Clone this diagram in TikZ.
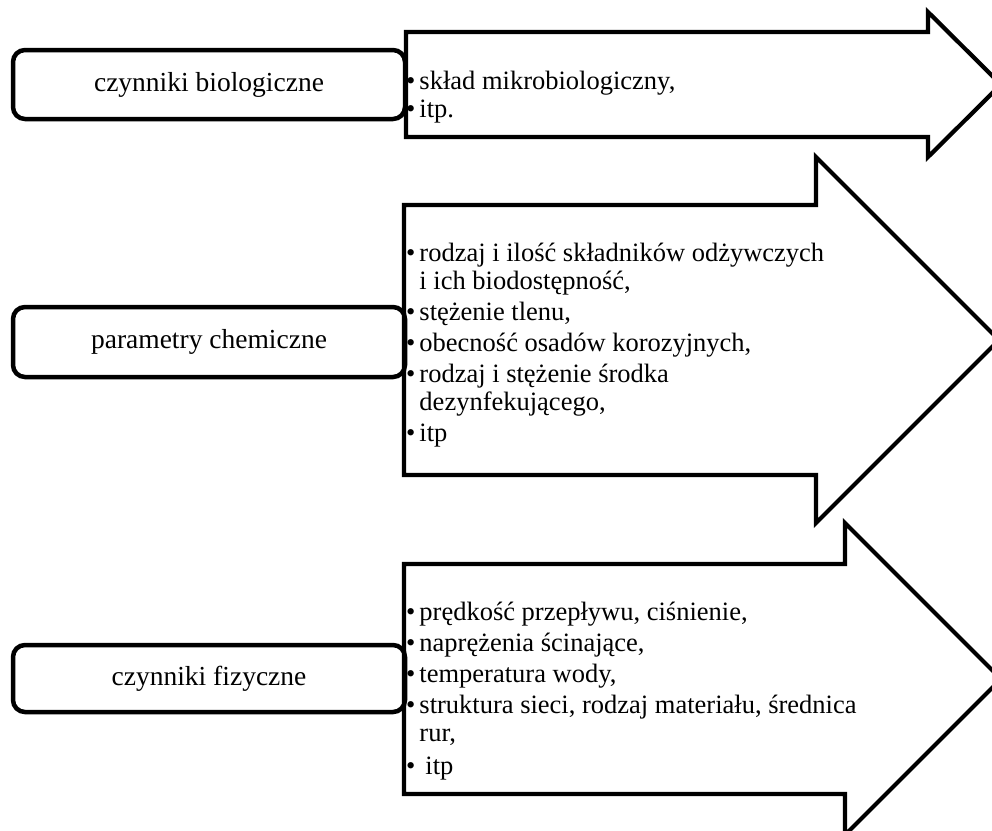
\documentclass[tikz,border=0pt]{standalone}
\usepackage{fontspec}
\setmainfont{Liberation Serif}
\begin{document}
\begin{tikzpicture}[x=1pt,y=-1pt,
  blockarrow/.style={draw=black,line width=4.2pt,line join=miter,fill=white},
  factorbox/.style={draw=black,line width=4.5pt,rounded corners=12pt,minimum width=392pt,inner sep=0pt,font=\fontsize{27.5}{30}\selectfont},
  listtext/.style={anchor=base west,inner sep=0pt,font=\fontsize{26.5}{28}\selectfont}]
\useasboundingbox (0,0) rectangle (992,830);
\clip (0,0) rectangle (992,830);
% block arrows
\draw[blockarrow] (406,32) -- (928,32) -- (928,12) -- (1001,84.5) -- (928,157) -- (928,137) -- (406,137) -- cycle;
\draw[blockarrow] (404,205) -- (816,205) -- (816,157) -- (999,340) -- (816,523) -- (816,475) -- (404,475) -- cycle;
\draw[blockarrow] (404,564) -- (845,564) -- (845,523) -- (1001,679) -- (845,835) -- (845,794) -- (404,794) -- cycle;
% factor boxes
\node[factorbox,minimum height=69pt] (b1) at (209,84.5) {czynniki biologiczne};
\node[factorbox,minimum height=70pt] (b2) at (209,342) {parametry chemiczne};
\node[factorbox,minimum height=67pt] (b3) at (209,678.5) {czynniki fizyczne};
% lists
\node[listtext] (l1) at (406,89) {\begin{tabular}[t]{@{}l@{\hspace{4pt}}l@{}}
\textbullet & skład mikrobiologiczny,\\
\textbullet & itp.
\end{tabular}};
\node[listtext] (l2) at (406,261) {\begin{tabular}[t]{@{}l@{\hspace{4pt}}l@{}}
\textbullet & rodzaj i ilość składników odżywczych\\
 & i ich biodostępność,\\[3pt]
\textbullet & stężenie tlenu,\\[3pt]
\textbullet & obecność osadów korozyjnych,\\[3pt]
\textbullet & rodzaj i stężenie środka\\
 & dezynfekującego,\\[3pt]
\textbullet & itp
\end{tabular}};
\node[listtext] (l3) at (406,620) {\begin{tabular}[t]{@{}l@{\hspace{4pt}}l@{}}
\textbullet & prędkość przepływu, ciśnienie,\\[3pt]
\textbullet & naprężenia ścinające,\\[3pt]
\textbullet & temperatura wody,\\[3pt]
\textbullet & struktura sieci, rodzaj materiału, średnica\\
 & rur,\\[5pt]
\textbullet & \hspace{6pt}itp
\end{tabular}};
\end{tikzpicture}
\end{document}
